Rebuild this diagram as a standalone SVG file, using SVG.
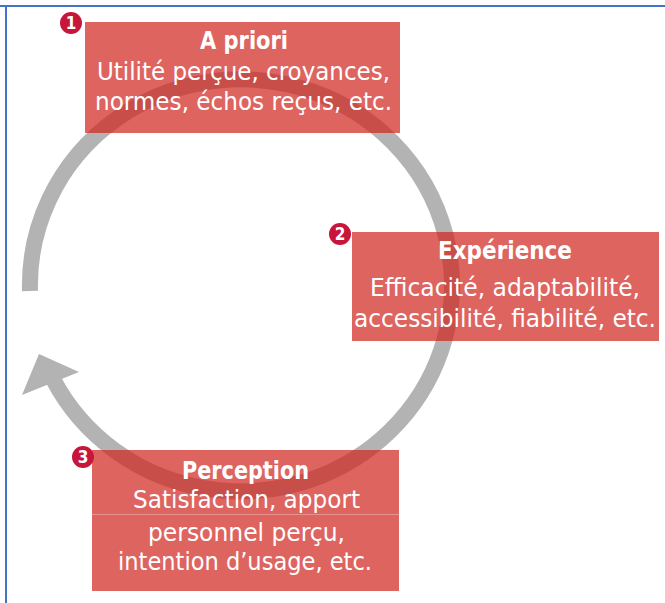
<svg xmlns="http://www.w3.org/2000/svg" width="665" height="603" viewBox="0 0 665 603">
<style>
.box{fill:#d0251f;fill-opacity:0.71}
.badge{fill:#c8163a}
.num{fill:#fff;font-family:"Liberation Sans Narrow","DejaVu Sans Condensed","Liberation Sans",sans-serif;font-weight:bold;font-size:17px;text-anchor:middle}
.t{fill:#fff;font-family:"Liberation Sans Narrow","DejaVu Sans Condensed","Roboto Condensed","Liberation Sans",sans-serif;font-size:25px}
.h{font-weight:bold}
</style>
<rect width="665" height="603" fill="#fff"/>
<g id="frame" fill="#4472c4">
<rect x="0" y="5" width="665" height="2"/>
<rect x="5" y="5" width="2" height="598"/>
</g>
<g id="connectors">
<path d="M 30 291 A 211 206 0 1 1 53 379" fill="none" stroke="#b3b3b3" stroke-width="16"/>
<polygon points="39,354 79,372 22,395" fill="#b3b3b3"/>
</g>
<g id="node1">
<rect class="box" x="85" y="22" width="315" height="111"/>
<circle class="badge" cx="71" cy="23" r="11"/>
<text class="num" x="71" y="29">1</text>
<text class="t h" x="200" y="49" textLength="88" lengthAdjust="spacingAndGlyphs">A priori</text>
<text class="t" x="97" y="80" textLength="293" lengthAdjust="spacingAndGlyphs">Utilité perçue, croyances,</text>
<text class="t" x="95" y="110" textLength="297" lengthAdjust="spacingAndGlyphs">normes, échos reçus, etc.</text>
</g>
<g id="node2">
<rect class="box" x="352" y="232" width="307" height="109"/>
<circle class="badge" cx="340" cy="234" r="11"/>
<text class="num" x="340" y="240">2</text>
<text class="t h" x="438" y="259" textLength="134" lengthAdjust="spacingAndGlyphs">Expérience</text>
<text class="t" x="370" y="296" textLength="270" lengthAdjust="spacingAndGlyphs">Efficacité, adaptabilité,</text>
<text class="t" x="354" y="327" textLength="302" lengthAdjust="spacingAndGlyphs">accessibilité, fiabilité, etc.</text>
</g>
<g id="node3">
<rect class="box" x="92" y="450" width="307" height="141"/>
<line x1="92" y1="514.5" x2="399" y2="514.5" stroke="#fff" stroke-opacity="0.3" stroke-width="1"/>
<circle class="badge" cx="83" cy="457" r="11"/>
<text class="num" x="83" y="463">3</text>
<text class="t h" x="182" y="479" textLength="127" lengthAdjust="spacingAndGlyphs">Perception</text>
<text class="t" x="133" y="508" textLength="227" lengthAdjust="spacingAndGlyphs">Satisfaction, apport</text>
<text class="t" x="148" y="541" textLength="197" lengthAdjust="spacingAndGlyphs">personnel perçu,</text>
<text class="t" x="118" y="570" textLength="254" lengthAdjust="spacingAndGlyphs">intention d’usage, etc.</text>
</g>
</svg>
